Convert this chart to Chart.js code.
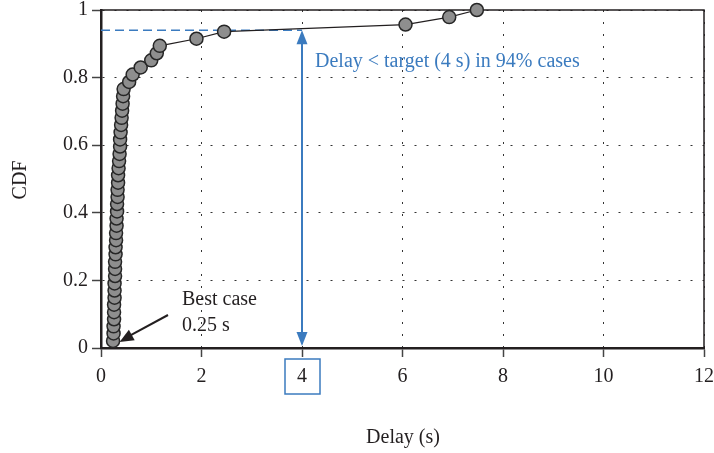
<!DOCTYPE html>
<html lang="en">
<head>
    <meta charset="UTF-8">
    <title>Delay CDF</title>
    <script src="https://cdn.jsdelivr.net/npm/chart.js"></script>
    <style>
        html, body { margin: 0; padding: 0; background: #fff; }
        #wrap { width: 714px; height: 453px; }
    </style>
</head>
<body>
    <div id="wrap"><canvas id="cdfChart" width="714" height="453"></canvas></div>

    <script>
        // delay (s) of each sample, sorted
        const delays = [
            0.24, 0.25, 0.25, 0.26, 0.26, 0.26, 0.27, 0.27, 0.27, 0.28,
            0.28, 0.28, 0.29, 0.29, 0.30, 0.30, 0.31, 0.31, 0.32, 0.32,
            0.33, 0.33, 0.34, 0.34, 0.35, 0.36, 0.37, 0.38, 0.38, 0.39,
            0.40, 0.41, 0.42, 0.43, 0.44, 0.45, 0.56, 0.63, 0.79, 1.00,
            1.11, 1.17, 1.90, 2.45, 6.06, 6.93, 7.48
        ];
        // CDF value of each sample
        const cdf = [
            0.021, 0.043, 0.064, 0.085, 0.106, 0.128, 0.149, 0.170, 0.191, 0.213,
            0.234, 0.255, 0.277, 0.298, 0.319, 0.340, 0.362, 0.383, 0.404, 0.426,
            0.447, 0.468, 0.489, 0.511, 0.532, 0.553, 0.574, 0.596, 0.617, 0.638,
            0.660, 0.681, 0.702, 0.723, 0.745, 0.766, 0.787, 0.809, 0.830, 0.851,
            0.872, 0.894, 0.915, 0.936, 0.957, 0.979, 1.000
        ];
        const xTicks = [0, 2, 4, 6, 8, 10, 12];
        const yTicks = [0, 0.2, 0.4, 0.6, 0.8, 1];

        const targetDelay = 4;
        const targetCdf = 0.94;
        const bestCase = 0.25;

        const SERIF = "'Liberation Serif', 'DejaVu Serif', serif";
        const INK = '#231f20';
        const BLUE = '#3b7bbf';

        const points = delays.map((d, i) => ({ x: d, y: cdf[i] }));

        function arrowHead(ctx, x, y, angle, len, half) {
            ctx.save();
            ctx.translate(x, y);
            ctx.rotate(angle);
            ctx.beginPath();
            ctx.moveTo(0, 0);
            ctx.lineTo(-len, -half);
            ctx.lineTo(-len, half);
            ctx.closePath();
            ctx.fill();
            ctx.restore();
        }

        // 보조선/주석 그리기
        const annotations = {
            id: 'annotations',
            beforeDatasetsDraw(chart) {
                const { ctx, chartArea: a, scales: { x, y } } = chart;
                const tx = x.getPixelForValue(targetDelay);
                const ty = y.getPixelForValue(targetCdf);
                const y0 = y.getPixelForValue(0);

                // frame top / right
                ctx.save();
                ctx.strokeStyle = INK;
                ctx.lineWidth = 1.5;
                ctx.beginPath();
                ctx.moveTo(a.left, a.top);
                ctx.lineTo(a.right, a.top);
                ctx.lineTo(a.right, a.bottom);
                ctx.stroke();

                // dashed target line
                ctx.strokeStyle = BLUE;
                ctx.lineWidth = 1.5;
                ctx.setLineDash([9, 5]);
                ctx.beginPath();
                ctx.moveTo(a.left, ty);
                ctx.lineTo(tx, ty);
                ctx.stroke();

                // double arrow
                ctx.setLineDash([]);
                ctx.lineWidth = 2;
                ctx.beginPath();
                ctx.moveTo(tx, ty + 12);
                ctx.lineTo(tx, y0 - 12);
                ctx.stroke();
                ctx.fillStyle = BLUE;
                arrowHead(ctx, tx, ty, -Math.PI / 2, 14, 5.5);
                arrowHead(ctx, tx, y0 - 2, Math.PI / 2, 14, 5.5);
                ctx.restore();
            },
            afterDraw(chart) {
                const { ctx, scales: { x, y } } = chart;
                const tx = x.getPixelForValue(targetDelay);
                ctx.save();

                // box around the target tick
                ctx.strokeStyle = BLUE;
                ctx.lineWidth = 1.5;
                ctx.strokeRect(tx - 17, 359, 35, 35);

                // labels
                ctx.font = '20px ' + SERIF;
                ctx.textBaseline = 'alphabetic';
                ctx.fillStyle = BLUE;
                ctx.textAlign = 'left';
                ctx.fillText('Delay < target (4 s) in 94% cases', 315, 67);

                ctx.fillStyle = INK;
                ctx.fillText('Best case', 182, 305);
                ctx.fillText(bestCase + ' s', 182, 331);

                // arrow to the best case point
                const bx = x.getPixelForValue(bestCase) + 6;
                const by = y.getPixelForValue(cdf[0]) + 1;
                ctx.strokeStyle = INK;
                ctx.lineWidth = 2;
                ctx.beginPath();
                ctx.moveTo(168, 315);
                ctx.lineTo(bx + 8, by - 5);
                ctx.stroke();
                const ang = Math.atan2(by - 315, bx - 168);
                arrowHead(ctx, bx, by, ang, 14, 6);

                // axis titles
                ctx.textAlign = 'center';
                ctx.fillText('Delay (s)', 403, 443);
                ctx.translate(21, 180);
                ctx.rotate(-Math.PI / 2);
                ctx.textBaseline = 'middle';
                ctx.fillText('CDF', 0, 0);
                ctx.restore();
            }
        };

        function createChart() {
            const cdfCtx = document.getElementById('cdfChart').getContext('2d');
            new Chart(cdfCtx, {
                type: 'scatter',
                data: {
                    datasets: [{
                        data: points,
                        showLine: true,
                        borderColor: INK,
                        borderWidth: 1.2,
                        pointRadius: 6.5,
                        pointBackgroundColor: '#8e8e8e',
                        pointBorderColor: '#262626',
                        pointBorderWidth: 1.5,
                        clip: false
                    }]
                },
                options: {
                    responsive: false,
                    animation: false,
                    events: [],
                    layout: { padding: { top: 10, right: 10, left: 0, bottom: 0 } },
                    plugins: {
                        legend: { display: false },
                        tooltip: { enabled: false }
                    },
                    scales: {
                        x: {
                            type: 'linear',
                            min: 0,
                            max: 12,
                            afterBuildTicks: (s) => { s.ticks = xTicks.map(v => ({ value: v })); },
                            afterFit: (s) => {
                                s.height = 105;
                                s.paddingLeft = 0;
                                s.paddingRight = 0;
                            },
                            ticks: {
                                color: INK,
                                padding: 8,
                                maxRotation: 0,
                                font: { family: SERIF, size: 20 }
                            },
                            grid: {
                                color: '#333',
                                lineWidth: 1,
                                tickLength: 9,
                                tickColor: '#444',
                                tickWidth: 1.5,
                                tickBorderDash: []
                            },
                            border: { color: INK, width: 2.5, dash: [2, 10] }
                        },
                        y: {
                            type: 'linear',
                            min: 0,
                            max: 1,
                            afterBuildTicks: (s) => { s.ticks = yTicks.map(v => ({ value: v })); },
                            afterFit: (s) => {
                                s.width = 101;
                                s.paddingTop = 0;
                                s.paddingBottom = 0;
                            },
                            ticks: {
                                color: INK,
                                padding: 4,
                                font: { family: SERIF, size: 20 },
                                callback: (v) => String(v)
                            },
                            grid: {
                                color: '#333',
                                lineWidth: 1,
                                tickLength: 9,
                                tickColor: '#444',
                                tickWidth: 1.5,
                                tickBorderDash: []
                            },
                            border: { color: INK, width: 2.5, dash: [2, 10] }
                        }
                    }
                },
                plugins: [annotations]
            });
        }

        window.onload = createChart;
    </script>
</body>
</html>
